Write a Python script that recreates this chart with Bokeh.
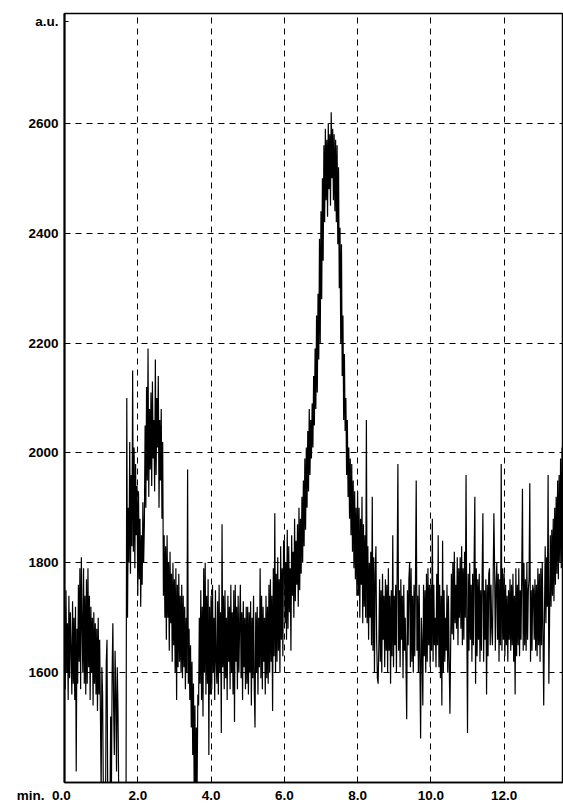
import numpy as np
from bokeh.plotting import figure
from bokeh.models import FixedTicker, Range1d, NumeralTickFormatter
from bokeh.embed import file_html
from bokeh.resources import INLINE

# sampling step of the trace (min)
step_min = 0.02

# detector signal (a.u.), one list per 2-minute window
sig_00_02 = [1720, 1570, 1750, 1600, 1690, 1550, 1740, 1590, 1710, 1640,
             1560, 1730, 1580, 1700, 1550, 1720, 1420, 1680, 1580, 1760,
             1620, 1790, 1570, 1810, 1690, 1600, 1790, 1580, 1740, 1560,
             1770, 1580, 1790, 1610, 1740, 1550, 1720, 1600, 1700, 1540,
             1710, 1580, 1690, 1560, 1680, 1530, 1700, 1560, 1660, 1530,
             1380, 1610, 1560, 1380, 1330, 1300, 1340, 1620, 1660, 1360,
             1300, 1280, 1340, 1520, 1380, 1600, 1690, 1540, 1450, 1640,
             1560, 1420, 1610, 1530, 1380, 1300, 1280, 1300, 1320, 1290,
             1300, 1330, 1310, 1350, 1380, 2100, 1700, 1900, 1800, 2020,
             1780, 1960, 1830, 2150, 1820, 2010, 1790, 1980, 1850, 1940]
sig_02_04 = [1740, 1930, 1770, 1880, 1720, 1850, 1760, 1910, 1800, 1870,
             2050, 1900, 2120, 1950, 2190, 1920, 2080, 1970, 2110, 1940,
             2130, 1990, 2060, 1930, 2170, 1960, 2100, 2010, 2140, 1900,
             2060, 1950, 2080, 1880, 2020, 1740, 1850, 1700, 1830, 1660,
             1850, 1700, 1800, 1640, 1820, 1690, 1780, 1620, 1800, 1650,
             1770, 1600, 1790, 1550, 1760, 1610, 1780, 1620, 1740, 1600,
             1760, 1590, 1740, 1610, 1720, 1570, 1700, 1600, 1970, 1580,
             1680, 1550, 1650, 1500, 1620, 1450, 1580, 1380, 1540, 1350,
             1500, 1400, 1560, 1540, 1700, 1580, 1750, 1550, 1720, 1520,
             1790, 1600, 1800, 1560, 1740, 1580, 1770, 1450, 1720, 1560]
sig_04_06 = [1740, 1570, 1760, 1600, 1700, 1550, 1750, 1620, 1580, 1730,
             1560, 1760, 1600, 1710, 1490, 1870, 1610, 1740, 1570, 1750,
             1590, 1700, 1550, 1740, 1620, 1720, 1570, 1760, 1600, 1710,
             1560, 1750, 1510, 1760, 1620, 1720, 1570, 1740, 1600, 1690,
             1760, 1590, 1710, 1550, 1730, 1610, 1700, 1570, 1720, 1580,
             1720, 1560, 1710, 1600, 1730, 1540, 1700, 1590, 1740, 1570,
             1500, 1710, 1600, 1720, 1560, 1700, 1610, 1790, 1590, 1740,
             1570, 1720, 1620, 1700, 1560, 1740, 1590, 1720, 1580, 1760,
             1600, 1770, 1620, 1740, 1530, 1790, 1630, 1890, 1600, 1780,
             1620, 1810, 1640, 1770, 1600, 1830, 1660, 1790, 1630, 1840]
sig_06_08 = [1840, 1690, 1800, 1660, 1860, 1680, 1830, 1710, 1790, 1640,
             1850, 1740, 1820, 1700, 1880, 1730, 1840, 1760, 1870, 1720,
             1900, 1750, 1880, 1780, 1920, 1800, 1950, 1830, 1990, 1860,
             2010, 1900, 2040, 1930, 2080, 1960, 2060, 1990, 2090, 2010,
             2140, 2050, 2190, 2080, 2250, 2110, 2290, 2170, 2390, 2200,
             2440, 2280, 2500, 2350, 2560, 2420, 2590, 2460, 2570, 2430,
             2600, 2480, 2580, 2450, 2620, 2500, 2590, 2460, 2580, 2440,
             2570, 2420, 2560, 2380, 2520, 2300, 2410, 2200, 2380, 2140,
             2250, 2060, 2180, 2040, 2100, 1960, 2060, 1920, 2010, 1880,
             1990, 1850, 1980, 1820, 1950, 1790, 1930, 1770, 1900, 1740]
sig_08_10 = [1930, 1740, 1900, 1700, 1880, 1760, 1920, 1690, 1870, 1720,
             1850, 1700, 2060, 1690, 1830, 1660, 1800, 1700, 1820, 1650,
             1920, 1640, 1810, 1600, 1780, 1830, 1660, 1590, 1580, 1650,
             1770, 1620, 1750, 1600, 1780, 1660, 1740, 1610, 1770, 1640,
             1760, 1600, 1790, 1640, 1740, 1580, 1750, 1630, 1850, 1610,
             1740, 1650, 1760, 1600, 1790, 1980, 1640, 1750, 1610, 1770,
             1660, 1740, 1590, 1760, 1640, 1700, 1620, 1515, 1750, 1650,
             1770, 1800, 1610, 1790, 1620, 1740, 1600, 1760, 1630, 1770,
             1950, 1640, 1740, 1600, 1760, 1620, 1480, 1700, 1650, 1540,
             1760, 1630, 1750, 1600, 1780, 1620, 1790, 1650, 1760, 1610]
sig_10_12 = [1760, 1640, 1880, 1620, 1760, 1650, 1700, 1610, 1780, 1650,
             1850, 1610, 1760, 1590, 1740, 1540, 1840, 1600, 1750, 1620,
             1700, 1640, 1760, 1600, 1740, 1620, 1525, 1650, 1780, 1670,
             1800, 1660, 1820, 1690, 1760, 1680, 1810, 1650, 1790, 1700,
             1810, 1680, 1830, 1650, 1790, 1660, 1820, 1700, 1960, 1700,
             1490, 1780, 1640, 1800, 1660, 1760, 1620, 1780, 1650, 1800,
             1920, 1580, 1790, 1630, 1770, 1660, 1780, 1620, 1750, 1640,
             1780, 1890, 1620, 1750, 1660, 1770, 1560, 1760, 1630, 1780,
             1790, 1650, 1760, 1680, 1650, 1770, 1890, 1790, 1640, 1760,
             1800, 1660, 1780, 1620, 1770, 1650, 1980, 1640, 1790, 1660]
sig_12_14 = [1780, 1630, 1760, 1650, 1740, 1620, 1750, 1660, 1770, 1640,
             1760, 1650, 1780, 1620, 1740, 1560, 1790, 1630, 1760, 1650,
             1790, 1630, 1750, 1660, 1780, 1935, 1640, 1800, 1650, 1770,
             1640, 1800, 1660, 1750, 1770, 1945, 1620, 1750, 1640, 1760,
             1750, 1660, 1770, 1640, 1760, 1630, 1790, 1650, 1780, 1620,
             1790, 1650, 1800, 1680, 1540, 1700, 1830, 1690, 1810, 1720,
             1960, 1580, 1700, 1850, 1720, 1860, 1740, 1880, 1730, 1900,
             1760, 1920, 1780, 1950, 1770, 1960, 1800, 1990, 1790, 2010,
             1820]

x_ticks = [0, 2, 4, 6, 8, 10, 12]
y_ticks = [1600, 1800, 2000, 2200, 2400, 2600]
y_unit_label = "a.u."
x_unit_label = "min."

signal = sig_00_02 + sig_02_04 + sig_04_06 + sig_06_08 + sig_08_10 + sig_10_12 + sig_12_14
times = np.arange(len(signal)) * step_min

FONT = "Liberation Sans"
NB = "\u00a0"

p = figure(width=563, height=805,
           x_range=Range1d(0, 13.62), y_range=Range1d(1400, 2800),
           output_backend="svg", toolbar_location=None,
           min_border_left=64, min_border_right=0,
           min_border_top=13, min_border_bottom=20)
p.background_fill_color = "white"
p.border_fill_color = "white"
p.outline_line_color = "black"
p.outline_line_width = 1.5

p.line(times, signal, line_color="black", line_width=1.2)

# axes
p.xaxis.ticker = FixedTicker(ticks=x_ticks)
p.xaxis.formatter = NumeralTickFormatter(format="0.0")
# unit "min." sits left of the first x label; non-breaking padding keeps "0.0" centred on its tick
p.xaxis.major_label_overrides = {0: x_unit_label + NB * 2 + "0.0" + NB * 11}
p.yaxis.ticker = FixedTicker(ticks=y_ticks + [2785])
p.yaxis.major_label_overrides = {2785: y_unit_label}
for ax in (p.xaxis[0], p.yaxis[0]):
    ax.axis_line_color = "black"
    ax.major_tick_in = 4
    ax.major_tick_out = 0
    ax.minor_tick_in = 0
    ax.minor_tick_out = 0
    ax.major_tick_line_color = "black"
    ax.major_label_text_font = FONT
    ax.major_label_text_font_style = "bold"
    ax.major_label_text_font_size = "13.5px"
    ax.major_label_text_color = "black"
p.yaxis.axis_line_width = 2
p.xaxis.axis_line_width = 1.5
p.yaxis.major_label_standoff = 6
p.xaxis.major_label_standoff = 5

# grid
p.xgrid.ticker = FixedTicker(ticks=x_ticks[1:])
p.ygrid.ticker = FixedTicker(ticks=y_ticks)
for g in (p.xgrid[0], p.ygrid[0]):
    g.grid_line_color = "black"
    g.grid_line_alpha = 1.0
    g.grid_line_width = 1
    g.grid_line_dash = "6 5"

open("out.html", "w").write(file_html(p, INLINE))
